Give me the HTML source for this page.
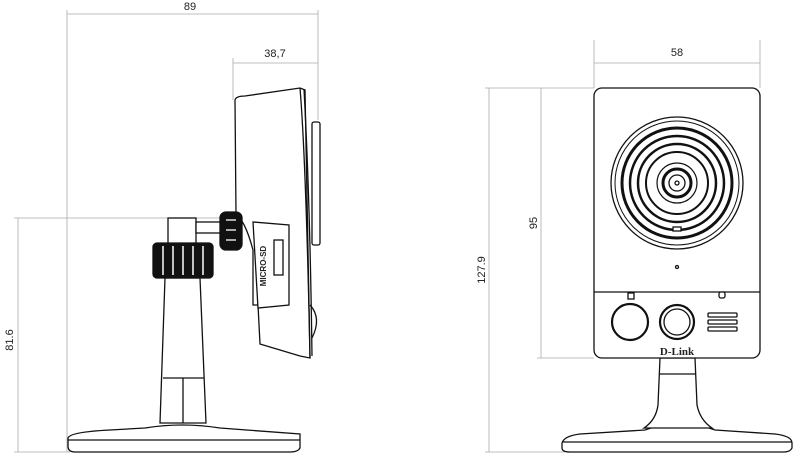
<!DOCTYPE html><html><head><style>body{margin:0;background:#fff}svg{display:block}text{font-family:"Liberation Sans",sans-serif;font-size:11px;fill:#222}</style></head><body>
<svg width="803" height="462" viewBox="0 0 803 462">
<g stroke="#aaa" stroke-width="0.8" fill="none">
<line x1="67" y1="10" x2="67" y2="452"/><line x1="318" y1="10" x2="318" y2="120"/><line x1="67" y1="14" x2="318" y2="14"/>
<line x1="233" y1="58" x2="233" y2="100"/><line x1="233" y1="63" x2="318" y2="63"/>
<line x1="18" y1="218" x2="18" y2="452"/><line x1="14" y1="218" x2="225" y2="218"/><line x1="14" y1="452" x2="70" y2="452"/>
<line x1="594" y1="40" x2="594" y2="88"/><line x1="760" y1="40" x2="760" y2="88"/><line x1="594" y1="63" x2="760" y2="63"/>
<line x1="485" y1="88" x2="594" y2="88"/><line x1="541" y1="88" x2="541" y2="358"/><line x1="537" y1="358" x2="594" y2="358"/>
<line x1="489" y1="88" x2="489" y2="452"/><line x1="485" y1="452" x2="565" y2="452"/>
</g>
<text x="190" y="10" text-anchor="middle">89</text><text x="275" y="57" text-anchor="middle">38,7</text>
<text x="677" y="56" text-anchor="middle">58</text>
<text transform="translate(13,340) rotate(-90)" text-anchor="middle">81.6</text>
<text transform="translate(537,223) rotate(-90)" text-anchor="middle">95</text>
<text transform="translate(485,270) rotate(-90)" text-anchor="middle">127.9</text>
<g stroke="#111" stroke-width="1.3" fill="#fff">
<path d="M68 438 Q70 432 110 430 L145 428 Q182 422 220 428 L300 434 L300 448 Q298 452 290 452 L75 452 Q68 452 68 446 Z"/>
<line x1="68" y1="440" x2="300" y2="440"/>
<path d="M165 278 L200 278 L206 423 L160 423 Z"/><line x1="163" y1="378" x2="204" y2="378"/><line x1="183" y1="378" x2="183" y2="423"/>
<rect x="168" y="218" width="28" height="26"/>
<rect x="196" y="222" width="28" height="11"/>
<rect x="312" y="122" width="8" height="123" rx="2"/>
<path d="M310 305 Q322 318 312 338" />
<path d="M235 100 Q236 96 245 96 L300 88 L305 90 L310 358 L300 356 L260 344 L258 305 L253 305 L253 250 Q245 220 236 215 Z"/>
<path d="M300 88 Q306 160 310 358" fill="none"/><path d="M304 89 Q310 200 312 356" fill="none"/>
<rect x="153" y="243" width="60" height="35" rx="4" fill="#111"/>
<g stroke="#fff" stroke-width="1.5"><line x1="163" y1="246" x2="163" y2="275"/><line x1="173" y1="246" x2="173" y2="275"/><line x1="183" y1="246" x2="183" y2="275"/><line x1="193" y1="246" x2="193" y2="275"/><line x1="203" y1="246" x2="203" y2="275"/></g>
<path d="M253 222 L289 225 L289 305 L258 308 Z"/>
<rect x="274" y="240" width="9" height="35"/>
<rect x="220" y="212" width="22" height="38" rx="6" fill="#111"/>
<g stroke="#fff"><line x1="226" y1="220" x2="236" y2="220"/><line x1="226" y1="230" x2="236" y2="230"/><line x1="226" y1="240" x2="236" y2="240"/></g>
<path d="M562 443 Q564 436 580 434 L645 430 L660 425 L700 425 L715 430 L775 434 Q792 436 792 443 L792 448 Q790 452 784 452 L570 452 Q562 452 562 448 Z"/>
<line x1="562" y1="442" x2="792" y2="442"/>
<path d="M660 358 L695 358 L697 405 Q700 420 712 428 L644 428 Q656 420 658 405 Z"/>
<line x1="659" y1="374" x2="696" y2="374"/>
<rect x="594" y="88" width="166" height="270" rx="8"/>
<line x1="594" y1="292" x2="760" y2="292"/>
<circle cx="677" cy="183" r="66"/><circle cx="677" cy="183" r="62" stroke-width="1"/>
<circle cx="677" cy="183" r="55" stroke-width="3"/><circle cx="677" cy="183" r="47" stroke-width="2.5"/>
<circle cx="677" cy="183" r="39" stroke-width="2.5"/><circle cx="677" cy="183" r="31" stroke-width="2"/>
<circle cx="677" cy="183" r="20" stroke-width="1.2"/><circle cx="677" cy="183" r="14" stroke-width="3"/>
<circle cx="677" cy="183" r="8"/><circle cx="677" cy="183" r="2"/>
<rect x="673" y="227" width="8" height="4"/>
<circle cx="677" cy="267" r="1.5"/>
<rect x="628" y="293" width="6" height="6"/><rect x="719" y="292" width="6" height="6" rx="2"/>
<circle cx="630" cy="322" r="18" stroke-width="2.2"/>
<circle cx="677" cy="322" r="17" stroke-width="2.2"/><circle cx="677" cy="322" r="13"/>
<rect x="708" y="313" width="29" height="4" rx="1"/><rect x="708" y="320" width="29" height="4" rx="1"/><rect x="708" y="327" width="29" height="4" rx="1"/>
</g>
<text x="262" y="262" transform="rotate(-90 266 262)" style="font-size:8px;font-weight:bold" text-anchor="middle">MICRO-SD</text>
<text x="677" y="355" text-anchor="middle" style="font-family:'Liberation Serif',serif;font-weight:bold;font-size:11px">D-Link</text>
</svg>
</body></html>
